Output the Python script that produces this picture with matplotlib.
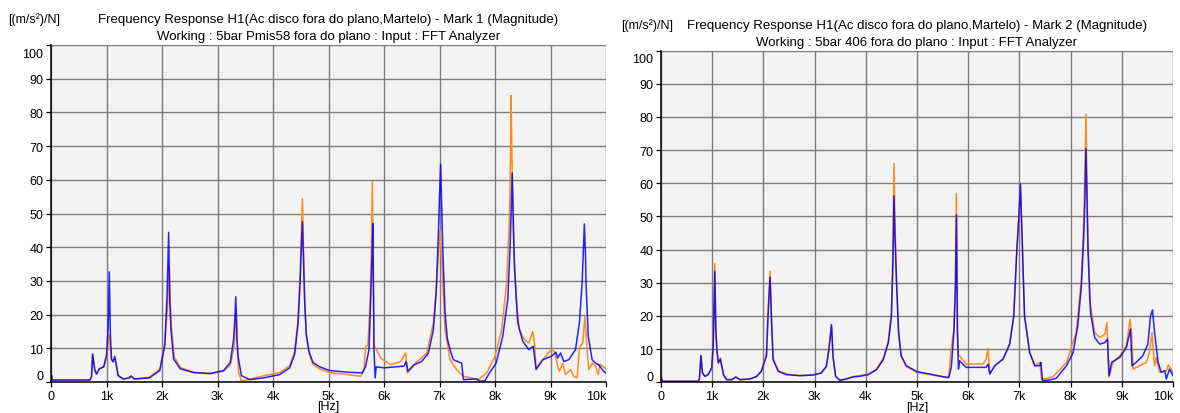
import matplotlib
matplotlib.use("Agg")
import matplotlib.pyplot as plt
from matplotlib.transforms import ScaledTranslation

plt.rcParams['font.family'] = ['Liberation Sans', 'DejaVu Sans']

# ---- panel 1 (Mark 1) : frequency in kHz, magnitude in (m/s2)/N ----
f1_blue = [0.0, 0.01, 0.02, 0.70, 0.73, 0.75, 0.79, 0.82, 0.87, 0.95, 1.00, 1.03, 1.05, 1.07, 1.09, 1.12, 1.15,
           1.21, 1.30, 1.41, 1.44, 1.50, 1.77, 1.96, 2.05, 2.09, 2.12, 2.14, 2.16, 2.21, 2.33, 2.57, 2.87,
           3.11, 3.23, 3.29, 3.31, 3.33, 3.35, 3.37, 3.43, 3.58, 3.82, 4.12, 4.30, 4.39, 4.45, 4.49, 4.51,
           4.53, 4.55, 4.57, 4.60, 4.65, 4.72, 4.84, 5.02, 5.35, 5.61, 5.67, 5.73, 5.76, 5.78, 5.80, 5.82,
           5.84, 5.86, 6.00, 6.36, 6.40, 6.43, 6.54, 6.68, 6.80, 6.89, 6.94, 6.98, 7.00, 7.02, 7.04, 7.06,
           7.10, 7.14, 7.19, 7.25, 7.40, 7.43, 7.67, 7.73, 7.82, 7.90, 8.02, 8.14, 8.23, 8.27, 8.29, 8.31,
           8.33, 8.35, 8.41, 8.50, 8.61, 8.69, 8.74, 8.86, 9.01, 9.10, 9.13, 9.18, 9.24, 9.33, 9.45, 9.52,
           9.57, 9.59, 9.61, 9.63, 9.64, 9.68, 9.75, 9.81, 9.87, 9.94, 10.0]
v1_blue = [0.5, 2.0, 0.6, 0.6, 1.5, 8.3, 3.4, 2.4, 3.9, 4.5, 8.0, 16.0, 32.7, 14.0, 6.8, 6.0, 7.6,
           1.9, 0.9, 1.2, 1.8, 0.9, 1.2, 3.4, 10.8, 25.0, 44.4, 24.0, 15.8, 6.8, 3.9, 2.8, 2.5,
           3.4, 5.8, 12.7, 18.0, 25.3, 13.0, 7.7, 1.9, 0.7, 1.2, 2.2, 4.2, 8.2, 17.0, 30.0, 40.0,
           47.5, 36.0, 24.0, 14.0, 9.0, 5.8, 4.5, 3.4, 2.9, 2.7, 4.7, 9.6, 24.5, 35.0, 47.0, 9.6,
           1.2, 4.5, 4.2, 4.7, 6.1, 3.2, 5.1, 6.1, 8.6, 15.5, 26.4, 44.0, 55.0, 64.6, 52.0, 39.3,
           20.5, 13.0, 9.6, 6.6, 5.6, 0.7, 0.9, 0.2, 0.4, 2.7, 5.6, 13.6, 24.5, 39.3, 50.0, 62.0,
           48.0, 34.4, 17.5, 12.1, 9.6, 10.6, 3.7, 6.6, 7.6, 8.8, 7.1, 8.6, 6.1, 6.6, 9.6, 17.5,
           29.4, 38.0, 46.9, 38.0, 29.4, 13.6, 6.6, 5.6, 5.1, 3.5, 2.6]

f1_orange = [0.0, 0.01, 0.02, 0.70, 0.73, 0.75, 0.79, 0.82, 0.87, 0.95, 1.00, 1.05, 1.09, 1.12, 1.15,
             1.21, 1.30, 1.41, 1.44, 1.50, 1.77, 1.96, 2.05, 2.10, 2.13, 2.15, 2.17, 2.22, 2.33, 2.57, 2.87,
             3.11, 3.23, 3.30, 3.34, 3.36, 3.38, 3.43, 3.50, 3.82, 4.12, 4.30, 4.39, 4.45, 4.49, 4.51, 4.53,
             4.55, 4.57, 4.60, 4.65, 4.72, 4.84, 5.02, 5.35, 5.58, 5.64, 5.67, 5.71, 5.75, 5.77, 5.79, 5.82,
             5.85, 5.94, 6.12, 6.30, 6.39, 6.42, 6.57, 6.77, 6.89, 6.95, 6.98, 7.01, 7.04, 7.06, 7.10, 7.19,
             7.31, 7.43, 7.70, 7.85, 8.00, 8.12, 8.21, 8.26, 8.28, 8.29, 8.31, 8.33, 8.38, 8.44, 8.53, 8.61,
             8.68, 8.71, 8.74, 8.86, 9.01, 9.07, 9.13, 9.16, 9.22, 9.27, 9.36, 9.42, 9.48, 9.52, 9.58, 9.62,
             9.66, 9.69, 9.75, 9.81, 9.86, 9.89, 9.95, 10.0]
v1_orange = [0.5, 2.0, 0.6, 0.6, 1.5, 7.8, 3.4, 2.4, 3.9, 4.5, 7.0, 14.0, 6.5, 6.0, 7.2,
             1.9, 0.9, 1.2, 1.8, 0.9, 1.4, 3.8, 11.5, 22.0, 34.5, 24.0, 16.5, 7.5, 4.3, 2.9, 2.5,
             3.2, 5.0, 10.5, 22.0, 9.0, 3.0, 0.3, 0.5, 1.8, 2.8, 4.8, 9.0, 18.5, 33.0, 44.0, 54.3,
             40.0, 25.0, 14.0, 8.5, 5.2, 3.9, 2.8, 2.2, 1.7, 3.7, 10.6, 10.8, 24.5, 38.0, 59.4, 10.6,
             10.1, 7.1, 5.1, 6.1, 8.6, 2.7, 5.6, 8.6, 17.5, 29.4, 38.0, 45.0, 36.0, 29.4, 15.5, 6.6,
             3.7, 1.7, 0.7, 2.7, 7.6, 15.5, 29.4, 49.0, 68.0, 85.0, 62.0, 44.0, 24.5, 15.5, 12.6, 11.6,
             15.0, 11.6, 4.2, 6.6, 9.6, 9.1, 4.7, 3.2, 5.6, 2.2, 3.7, 1.7, 1.2, 10.1, 11.6, 19.5,
             9.6, 3.7, 5.6, 4.7, 2.2, 5.3, 4.5, 3.9]

# ---- panel 2 (Mark 2) ----
f2_blue = [0.0, 0.01, 0.02, 0.73, 0.75, 0.78, 0.81, 0.86, 0.92, 0.99, 1.02, 1.05, 1.07, 1.09, 1.12, 1.16,
           1.22, 1.28, 1.38, 1.46, 1.54, 1.74, 1.87, 1.96, 2.06, 2.09, 2.13, 2.16, 2.19, 2.29, 2.45,
           2.71, 2.97, 3.13, 3.23, 3.28, 3.33, 3.36, 3.41, 3.49, 3.62, 3.75, 3.88, 4.05, 4.21, 4.34,
           4.44, 4.50, 4.53, 4.55, 4.57, 4.60, 4.64, 4.69, 4.79, 5.00, 5.25, 5.57, 5.62, 5.67, 5.72, 5.75,
           5.77, 5.79, 5.81, 5.83, 5.96, 6.35, 6.39, 6.42, 6.52, 6.68, 6.81, 6.89, 6.95, 6.99, 7.02, 7.04,
           7.06, 7.10, 7.20, 7.30, 7.40, 7.42, 7.45, 7.59, 7.72, 7.92, 8.05, 8.14, 8.21, 8.26, 8.28, 8.30,
           8.32, 8.34, 8.39, 8.47, 8.57, 8.67, 8.72, 8.75, 8.80, 8.96, 9.09, 9.17, 9.20, 9.28, 9.41, 9.51,
           9.56, 9.60, 9.64, 9.71, 9.77, 9.84, 9.87, 9.93, 10.0]
v2_blue = [0.5, 1.2, 0.3, 0.3, 1.0, 8.1, 2.8, 1.8, 2.3, 4.3, 10.9, 33.5, 16.0, 9.9, 5.8, 7.0,
           2.3, 0.8, 0.8, 1.6, 0.8, 1.0, 1.8, 3.3, 7.9, 19.9, 31.7, 17.9, 6.8, 3.3, 2.3,
           2.0, 2.2, 2.8, 4.8, 9.9, 17.4, 7.9, 1.8, 0.6, 1.0, 1.6, 1.8, 2.3, 3.8, 6.8,
           11.9, 19.9, 36.0, 56.2, 44.0, 30.0, 15.0, 8.0, 5.0, 3.2, 2.5, 1.5, 1.5, 4.5, 15.0, 28.0,
           50.4, 15.0, 4.0, 6.5, 4.5, 4.5, 5.5, 2.5, 5.0, 7.0, 11.5, 20.0, 40.0, 50.0, 59.7, 50.0,
           40.0, 20.0, 9.0, 5.0, 5.0, 6.0, 0.5, 0.7, 1.2, 5.0, 9.0, 17.0, 29.0, 45.0, 56.0, 70.5,
           55.0, 40.0, 21.0, 13.5, 11.5, 12.0, 13.0, 2.0, 6.0, 7.5, 10.5, 16.0, 5.0, 6.0, 8.0, 11.5,
           20.0, 21.8, 15.0, 6.0, 3.0, 3.5, 1.0, 4.0, 2.0]

f2_orange = [0.0, 0.01, 0.02, 0.73, 0.75, 0.78, 0.81, 0.86, 0.92, 0.99, 1.02, 1.05, 1.07, 1.09, 1.12, 1.16,
             1.22, 1.28, 1.38, 1.46, 1.54, 1.74, 1.87, 1.96, 2.06, 2.09, 2.13, 2.16, 2.19, 2.29, 2.45,
             2.71, 2.97, 3.13, 3.23, 3.28, 3.33, 3.36, 3.41, 3.49, 3.62, 3.75, 3.88, 4.05, 4.21, 4.34,
             4.44, 4.50, 4.53, 4.55, 4.57, 4.60, 4.64, 4.69, 4.79, 5.00, 5.25, 5.57, 5.62, 5.66, 5.72, 5.75,
             5.77, 5.79, 5.81, 5.83, 5.96, 6.29, 6.35, 6.39, 6.42, 6.52, 6.68, 6.81, 6.89, 6.95, 6.99, 7.02,
             7.04, 7.06, 7.10, 7.20, 7.30, 7.40, 7.43, 7.49, 7.66, 7.92, 8.11, 8.21, 8.26, 8.28, 8.30, 8.32,
             8.34, 8.37, 8.47, 8.57, 8.67, 8.71, 8.75, 8.83, 8.96, 9.09, 9.16, 9.19, 9.22, 9.35, 9.48, 9.54,
             9.59, 9.64, 9.67, 9.74, 9.87, 9.91, 10.0]
v2_orange = [0.5, 1.8, 0.3, 0.3, 1.0, 7.8, 2.8, 1.8, 2.3, 4.3, 11.5, 35.9, 17.0, 10.0, 6.0, 7.3,
             2.3, 0.8, 0.8, 1.6, 0.8, 1.0, 1.8, 3.5, 8.5, 21.0, 33.5, 18.5, 7.2, 3.5, 2.5,
             2.0, 2.2, 2.8, 4.8, 10.5, 17.0, 7.5, 1.8, 0.6, 1.0, 1.8, 2.0, 2.5, 4.0, 7.2,
             12.5, 21.0, 40.0, 66.0, 48.0, 31.0, 15.5, 8.0, 4.8, 3.0, 2.3, 1.5, 1.5, 9.0, 16.0, 30.0,
             56.9, 16.0, 8.0, 8.0, 5.5, 5.5, 7.0, 10.2, 2.5, 5.0, 7.0, 11.5, 20.0, 40.0, 50.0, 59.0,
             50.0, 40.0, 20.0, 9.0, 5.0, 6.0, 1.0, 1.0, 1.7, 6.0, 15.0, 31.0, 50.0, 64.0, 80.8, 60.0,
             42.0, 25.0, 15.0, 13.5, 14.5, 18.0, 1.5, 6.0, 8.0, 11.0, 19.0, 15.0, 4.0, 5.0, 6.0, 9.0,
             15.0, 5.0, 7.5, 3.0, 3.5, 5.3, 3.0]

titles = [
    ("Frequency Response H1(Ac disco fora do plano,Martelo) - Mark 1 (Magnitude)",
     "Working : 5bar Pmis58 fora do plano : Input : FFT Analyzer"),
    ("Frequency Response H1(Ac disco fora do plano,Martelo) - Mark 2 (Magnitude)",
     "Working : 5bar 406 fora do plano : Input : FFT Analyzer"),
]
xticks = [0, 1000, 2000, 3000, 4000, 5000, 6000, 7000, 8000, 9000, 10000]
xticklabels = ['0', '1k', '2k', '3k', '4k', '5k', '6k', '7k', '8k', '9k', '10k']
yticks = [0, 10, 20, 30, 40, 50, 60, 70, 80, 90, 100]

fig = plt.figure(figsize=(11.8, 4.14), dpi=100)
ax1 = fig.add_axes([51/1180, 1-383/414, 555/1180, 337/414])
ax2 = fig.add_axes([661/1180, 1-383.3/414, 512/1180, 331.8/414])

panels = [
    (ax1, f1_orange, v1_orange, f1_blue, v1_blue, titles[0], 20, 37, 8),
    (ax2, f2_orange, v2_orange, f2_blue, v2_blue, titles[1], 26, 43, 621),
]

for ax, fo, vo, fb, vb, tt, y_t1, y_t2, x_unit in panels:
    ax.set_facecolor('#f3f3f3')
    ax.plot([f*1000 for f in fo], vo, color='#ff8a1c', lw=1.1)
    ax.plot([f*1000 for f in fb], vb, color='#0000ff', lw=1.1, alpha=0.85)
    ax.set_xlim(0, 10000)
    ax.set_ylim(0, 100)
    ax.set_xticks(xticks)
    ax.set_xticklabels(xticklabels)
    ax.set_yticks(yticks)
    ax.grid(True, color='#7c7c7c', lw=1.0)
    ax.set_axisbelow(True)
    for s in ['top', 'right']:
        ax.spines[s].set_visible(False)
    for s in ['left', 'bottom']:
        ax.spines[s].set_linewidth(1.1)
    ax.tick_params(axis='both', direction='out', length=3.5, width=0.9, labelsize=9, pad=2)
    # edge labels pushed inward like the original software
    ylab = ax.get_yticklabels()
    ylab[0].set_transform(ylab[0].get_transform() + ScaledTranslation(0, 0.07, fig.dpi_scale_trans))
    ylab[-1].set_transform(ylab[-1].get_transform() + ScaledTranslation(0, -0.07, fig.dpi_scale_trans))
    ax.get_xticklabels()[-1].set_horizontalalignment('right')
    ax.set_xlabel('[Hz]', fontsize=9, labelpad=-1)

    bb = ax.get_position()
    cx = (bb.x0 + bb.x1) / 2
    fig.text(cx, 1 - y_t1/414, tt[0], ha='center', va='center', fontsize=9.5)
    fig.text(cx, 1 - y_t2/414, tt[1], ha='center', va='center', fontsize=9.5)
    fig.text(x_unit/1180, 1 - y_t1/414, '[(m/s²)/N]', ha='left', va='center', fontsize=9)

fig.savefig('out.png', dpi=100)
